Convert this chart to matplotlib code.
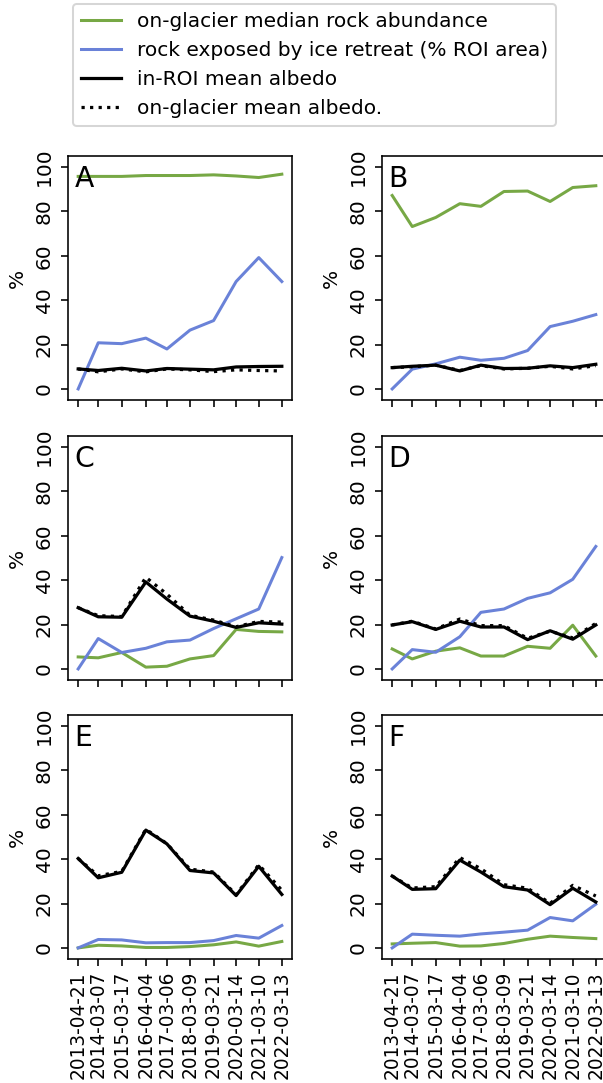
import pandas as pd
import matplotlib
matplotlib.use('Agg')
import matplotlib.pyplot as plt
import matplotlib.dates as mdates
from matplotlib.lines import Line2D

# acquisition dates
dates = pd.to_datetime(['2013-04-21', '2014-03-07', '2015-03-17', '2016-04-04', '2017-03-06',
                        '2018-03-09', '2019-03-21', '2020-03-14', '2021-03-10', '2022-03-13'])

panels = ['A', 'B', 'C', 'D', 'E', 'F']

# on-glacier median rock abundance
rock_A = [95.8, 95.8, 95.8, 96.2, 96.2, 96.2, 96.5, 96.0, 95.3, 96.8]
rock_B = [87.2, 73.2, 77.3, 83.5, 82.3, 89.0, 89.2, 84.5, 90.8, 91.6]
rock_C = [5.4, 5.0, 7.4, 0.8, 1.2, 4.5, 6.0, 17.8, 16.9, 16.7]
rock_D = [9.0, 4.5, 8.0, 9.5, 5.8, 5.8, 10.2, 9.3, 19.7, 5.8]
rock_E = [0.0, 1.2, 0.9, 0.2, 0.2, 0.6, 1.4, 2.7, 0.8, 2.9]
rock_F = [1.8, 2.1, 2.4, 0.8, 0.9, 2.0, 3.9, 5.3, 4.7, 4.2]

# rock exposed by ice retreat (% ROI area)
exposed_A = [0.0, 20.8, 20.4, 22.9, 18.0, 26.5, 30.8, 48.4, 59.2, 48.4]
exposed_B = [0.0, 8.9, 11.3, 14.3, 12.9, 13.8, 17.3, 28.1, 30.5, 33.5]
exposed_C = [0.0, 13.7, 7.4, 9.3, 12.2, 13.0, 18.2, 22.6, 27.0, 50.2]
exposed_D = [0.0, 8.7, 7.5, 14.5, 25.5, 27.0, 31.8, 34.3, 40.4, 55.2]
exposed_E = [0.0, 3.8, 3.6, 2.3, 2.4, 2.4, 3.3, 5.6, 4.4, 10.1]
exposed_F = [0.0, 6.2, 5.7, 5.3, 6.3, 7.1, 8.0, 13.7, 12.2, 19.7]

# in-ROI mean albedo
roi_A = [9.0, 8.3, 9.3, 8.1, 9.2, 8.9, 8.6, 9.9, 10.1, 10.2]
roi_B = [9.6, 10.2, 10.7, 8.1, 10.7, 9.2, 9.3, 10.4, 9.6, 11.1]
roi_C = [27.6, 23.5, 23.3, 39.2, 31.5, 23.8, 21.5, 18.7, 20.8, 20.2]
roi_D = [19.8, 21.3, 17.8, 21.5, 18.9, 18.9, 13.2, 17.2, 13.4, 19.8]
roi_E = [40.3, 31.6, 34.1, 53.1, 46.9, 34.9, 33.8, 23.6, 36.8, 24.1]
roi_F = [32.4, 26.4, 26.7, 39.6, 34.2, 27.6, 26.1, 19.5, 26.9, 20.7]

# on-glacier mean albedo
glac_A = [9.0, 7.7, 9.0, 7.7, 9.0, 8.6, 7.8, 8.6, 8.3, 8.1]
glac_B = [9.6, 10.0, 10.7, 8.3, 10.5, 9.0, 9.3, 10.2, 9.0, 10.5]
glac_C = [27.6, 24.0, 23.6, 41.3, 33.7, 24.2, 22.0, 19.0, 21.4, 21.1]
glac_D = [19.8, 21.5, 18.0, 22.5, 19.5, 19.5, 13.8, 17.0, 14.0, 20.5]
glac_E = [40.3, 32.5, 34.5, 53.5, 47.0, 35.5, 34.2, 24.0, 37.5, 26.0]
glac_F = [32.4, 27.0, 27.6, 40.7, 35.7, 28.5, 26.9, 20.1, 28.2, 23.4]

rock = [rock_A, rock_B, rock_C, rock_D, rock_E, rock_F]
exposed = [exposed_A, exposed_B, exposed_C, exposed_D, exposed_E, exposed_F]
roi = [roi_A, roi_B, roi_C, roi_D, roi_E, roi_F]
glac = [glac_A, glac_B, glac_C, glac_D, glac_E, glac_F]

legend_labels = ['on-glacier median rock abundance',
                 'rock exposed by ice retreat (% ROI area)',
                 'in-ROI mean albedo',
                 'on-glacier mean albedo.']

green = '#77a845'
blue = '#6a82d8'

W, H, DPI = 603, 1083, 145
fig = plt.figure(figsize=(W / DPI, H / DPI), dpi=DPI)

lefts = [68, 382]
tops = [156, 436, 715]
aw, ah = 224, 244

for i, name in enumerate(panels):
    row, col = divmod(i, 2)
    ax = fig.add_axes([lefts[col] / W, 1 - (tops[row] + ah) / H, aw / W, ah / H])
    ax.plot(dates, rock[i], color=green, lw=1.5)
    ax.plot(dates, exposed[i], color=blue, lw=1.5)
    ax.plot(dates, roi[i], color='black', lw=1.6)
    ax.plot(dates, glac[i], color='black', lw=1.6, ls=':')
    ax.set_ylim(-5, 105)
    ax.set_yticks([0, 20, 40, 60, 80, 100])
    ax.tick_params(axis='y', labelrotation=90)
    for lab in ax.get_yticklabels():
        lab.set_va('center')
    ax.set_ylabel('%')
    ax.set_xticks(dates)
    ax.xaxis.set_major_formatter(mdates.DateFormatter('%Y-%m-%d'))
    if row < 2:
        ax.tick_params(axis='x', labelbottom=False)
    else:
        ax.tick_params(axis='x', labelrotation=90, labelsize=9.2, pad=2.5)
    ax.text(0.03, 0.965, name, transform=ax.transAxes, fontsize=14, va='top', ha='left')

handles = [Line2D([], [], color=green, lw=1.5),
           Line2D([], [], color=blue, lw=1.5),
           Line2D([], [], color='black', lw=1.6),
           Line2D([], [], color='black', lw=1.6, ls=':')]
fig.legend(handles, legend_labels, loc='upper center', borderaxespad=0,
           bbox_to_anchor=(314.5 / W, 1 - 4 / H), fontsize=10)

fig.savefig('out.png', dpi=DPI)
